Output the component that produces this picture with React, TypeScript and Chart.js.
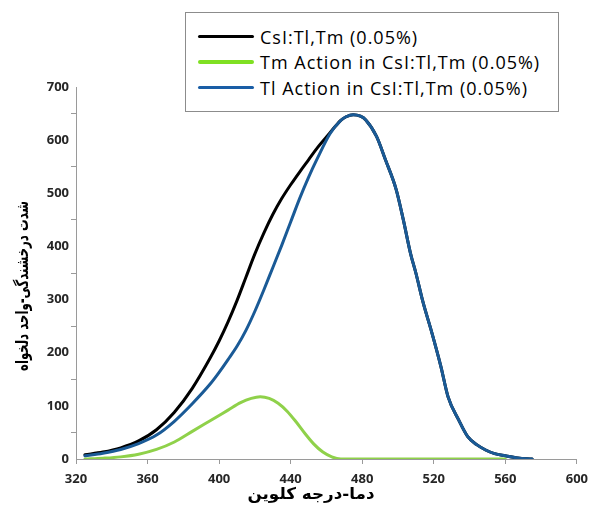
import React, { useEffect, useRef } from "react";
import { Chart, registerables } from "chart.js";

Chart.register(...registerables);

// Temperatures (K) and intensities (a.u.)
const totalT = [325, 335, 345, 355, 365, 375, 385, 395, 400, 405, 410, 415, 420, 425, 430, 435, 440, 445, 450, 455, 460, 465, 468, 471, 475, 479, 482, 488, 493, 499, 503, 507, 510, 514, 519, 524, 528, 534, 539, 544, 549, 554, 560, 567, 575];
const totalI = [8, 13, 21, 34, 55, 88, 133, 190, 222, 258, 298, 342, 386, 425, 460, 490, 516, 540, 563, 586, 606, 626, 637, 644, 648, 645, 638, 607, 563, 507, 450, 387, 350, 295, 237, 174, 117, 73, 42, 27, 17, 10, 6, 2, 0];

const tmT = [325, 335, 345, 355, 365, 375, 385, 395, 405, 412, 418, 423, 428, 433, 438, 443, 448, 453, 458, 463, 468, 500, 530, 560];
const tmI = [0, 1.5, 4, 9, 18, 32, 52, 72, 92, 106, 114, 117, 114, 105, 90, 70, 48, 28, 13, 4, 0, 0, 0, 0];

const tlT = [325, 335, 345, 355, 365, 375, 385, 395, 400, 405, 410, 415, 420, 425, 430, 435, 440, 445, 450, 455, 462, 468, 471, 475, 479, 482, 488, 493, 499, 503, 507, 510, 514, 519, 524, 528, 534, 539, 544, 549, 554, 560, 567, 575];
const tlI = [6, 11, 18, 29, 45, 71, 104, 141, 163, 187, 212, 242, 278, 318, 360, 402, 446, 490, 530, 566, 612, 637, 644, 648, 645, 638, 607, 563, 507, 450, 387, 350, 295, 237, 174, 117, 73, 42, 27, 17, 10, 6, 2, 0];

const seriesNames = ["CsI:Tl,Tm (0.05%)", "Tm Action in CsI:Tl,Tm (0.05%)", "Tl Action in CsI:Tl,Tm (0.05%)"];
const seriesColors = ["#000000", "#8fd14a", "#1a5a96"];
const legendColors = ["#000000", "#7fe022", "#1a5ea6"];
const drawOrder = [2, 1, 0];

const xTitle = "دما-درجه کلوین";
const yTitle = "شدت درخشندگی-واحد دلخواه";

const toPts = (xs: number[], ys: number[]) => xs.map((x, i) => ({ x, y: ys[i] }));

function drawFitted(ctx: any, text: string, cx: number, cy: number, length: number, rot: number) {
  ctx.save();
  ctx.translate(cx, cy);
  ctx.rotate(rot);
  const w = ctx.measureText(text).width;
  ctx.scale(length / w, 1);
  ctx.fillText(text, 0, 0);
  ctx.restore();
}

const titlePlugin = {
  id: "axisTitles",
  afterDraw(chart: any) {
    const ctx = chart.ctx;
    ctx.save();
    ctx.fillStyle = "#000";
    ctx.textAlign = "center";
    ctx.textBaseline = "middle";
    ctx.font = "bold 16px 'DejaVu Sans'";
    drawFitted(ctx, xTitle, 311, 495, 127, 0);
    ctx.font = "bold 17px 'DejaVu Sans'";
    drawFitted(ctx, yTitle, 24, 286, 170, -Math.PI / 2);
    ctx.restore();
  },
};

export default function App() {
  const ref = useRef<HTMLCanvasElement | null>(null);
  useEffect(() => {
    if (!ref.current) return;
    const tickFont = { family: "'Open Sans'", size: 13, weight: 700 as any };
    const chart = new Chart(ref.current, {
      type: "line",
      data: {
        datasets: [
          { label: seriesNames[0], data: toPts(totalT, totalI), borderColor: seriesColors[0], order: drawOrder[0] },
          { label: seriesNames[1], data: toPts(tmT, tmI), borderColor: seriesColors[1], order: drawOrder[1] },
          { label: seriesNames[2], data: toPts(tlT, tlI), borderColor: seriesColors[2], order: drawOrder[2] },
        ].map((d) => ({
          ...d,
          borderWidth: 3,
          pointRadius: 0,
          fill: false,
          cubicInterpolationMode: "monotone" as const,
          borderJoinStyle: "round" as const,
          borderCapStyle: "round" as const,
        })),
      },
      options: {
        animation: false,
        responsive: false,
        maintainAspectRatio: false,
        layout: { padding: { top: 87, right: 12, left: 0, bottom: 0 } },
        plugins: { legend: { display: false }, tooltip: { enabled: false } },
        scales: {
          x: {
            type: "linear",
            min: 320,
            max: 600,
            ticks: { stepSize: 40, font: tickFont, color: "#262626", padding: 7, maxRotation: 0 },
            grid: { drawOnChartArea: false, drawTicks: true, tickLength: 5, color: "#9a9a9a" },
            border: { color: "#9a9a9a", width: 1 },
            afterFit: (s: any) => { s.height = 47; },
          },
          y: {
            min: 0,
            max: 700,
            ticks: {
              stepSize: 50,
              font: tickFont,
              color: "#262626",
              padding: 2,
              callback: (v: any) => (Number(v) % 100 === 0 ? String(v) : ""),
            },
            grid: {
              drawOnChartArea: false,
              drawTicks: true,
              tickLength: 5,
              color: (c: any) => (c.tick && c.tick.value % 100 === 0 ? "rgba(0,0,0,0)" : "#9a9a9a"),
            },
            border: { color: "#9a9a9a", width: 1 },
            afterFit: (s: any) => { s.width = 76; },
          },
        },
      },
      plugins: [titlePlugin],
    });
    return () => chart.destroy();
  }, []);

  return (
    <div style={{ position: "fixed", left: 0, top: 0, width: 595, height: 506, background: "#fff" }}>
      <canvas ref={ref} width={595} height={506} style={{ width: 595, height: 506, display: "block" }} />
      <div
        style={{
          position: "absolute",
          left: 185,
          top: 12,
          width: 372,
          height: 98,
          border: "1px solid #8c8c8c",
          background: "#fff",
          fontFamily: "'Open Sans'",
          fontSize: 18,
          letterSpacing: 1,
          color: "#000",
        }}
      >
        {seriesNames.map((n, i) => (
          <div
            key={n}
            style={{
              position: "absolute",
              left: 12,
              top: [23.7, 49, 74.7][i] - 13,
              height: 26,
              display: "flex",
              alignItems: "center",
              whiteSpace: "nowrap",
            }}
          >
            <span style={{ display: "inline-block", width: 56, height: 3.5, background: legendColors[i], borderRadius: 2, marginRight: 6 }} />
            <span>{n}</span>
          </div>
        ))}
      </div>
    </div>
  );
}
